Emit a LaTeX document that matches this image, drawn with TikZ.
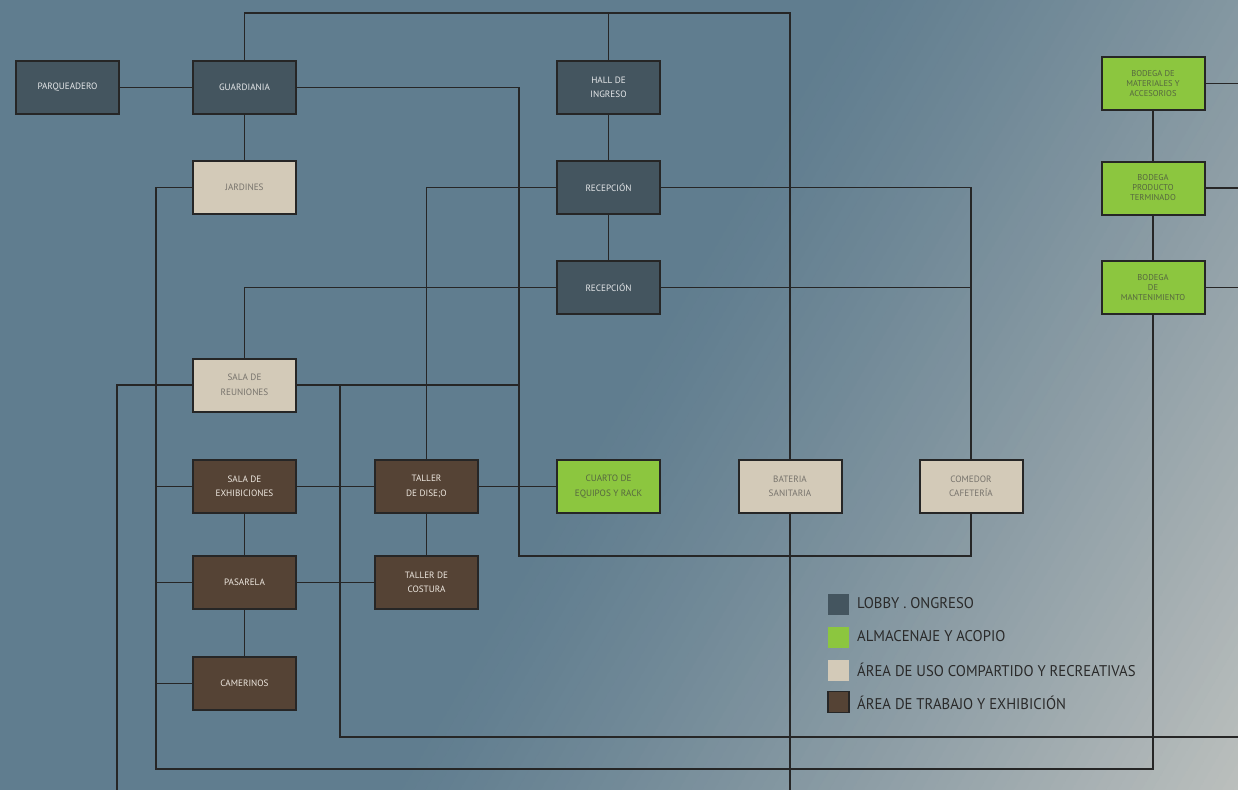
\documentclass[tikz,border=0pt]{standalone}
\usepackage{fontspec}
\setmainfont{PT Sans}
\newfontfamily\leyfont[FakeStretch=0.95]{PT Sans}
\definecolor{bgA}{HTML}{607D8F}
\definecolor{bgB}{HTML}{BBBFBD}
\definecolor{lobby}{HTML}{44555F}
\definecolor{verde}{HTML}{8CC63F}
\definecolor{beige}{HTML}{D3CAB8}
\definecolor{cafe}{HTML}{554335}
\definecolor{linea}{HTML}{262626}
\definecolor{txlobby}{HTML}{E6E8EA}
\definecolor{txverde}{HTML}{56673F}
\definecolor{txbeige}{HTML}{77736C}
\definecolor{txcafe}{HTML}{EEE8E0}
\definecolor{txley}{HTML}{2A2A2A}
\tikzset{
  caja/.style={draw=linea, line width=2pt, minimum width=103pt, minimum height=53pt, inner sep=0pt, align=center, font=\fontsize{9.2}{14.5}\selectfont},
  clobby/.style={caja, fill=lobby, text=txlobby},
  cverde/.style={caja, fill=verde, text=txverde},
  cbeige/.style={caja, fill=beige, text=txbeige},
  ccafe/.style={caja, fill=cafe, text=txcafe},
  bodega/.style={cverde, font=\fontsize{8.5}{10}\selectfont},
  con/.style={draw=linea, line width=1.5pt},
  cuadro/.style={minimum width=21pt, minimum height=21pt, inner sep=0pt},
  ley/.style={anchor=west, inner sep=0pt, text=txley, font=\leyfont\fontsize{15.5}{18}\selectfont}
}
\begin{document}
\begin{tikzpicture}[x=1pt,y=-1pt]
\useasboundingbox (0,0) rectangle (1238,789);
% background gradient (strips perpendicular to the diagonal direction)
\begin{scope}
\clip (-6,-6) rectangle (1244,795);
\fill[bgA] (-6,-6) rectangle (1244,795);
\foreach \u in {0,10,...,730}{
  \pgfmathsetmacro\p{100*((\u+5)/735)^1.2}
  \fill[bgB!\p!bgA, draw=bgB!\p!bgA, line width=0.8pt]
    ({619+0.866*\u+500},{394.5+0.5*\u-866})
    -- ({619+0.866*(\u+10)+500},{394.5+0.5*(\u+10)-866})
    -- ({619+0.866*(\u+10)-500},{394.5+0.5*(\u+10)+866})
    -- ({619+0.866*\u-500},{394.5+0.5*\u+866}) -- cycle;
}
\fill[bgB] ({619+0.866*740+500},{394.5+0.5*740-866})
    -- ({619+0.866*1200+500},{394.5+0.5*1200-866})
    -- ({619+0.866*1200-500},{394.5+0.5*1200+866})
    -- ({619+0.866*740-500},{394.5+0.5*740+866}) -- cycle;
\end{scope}
% coordinates
\coordinate (topR) at (790,13);
\coordinate (v519) at (519,556);
\coordinate (lftB) at (156,769);
\coordinate (lft2) at (117,795);
\coordinate (x340) at (340,737);
\coordinate (edgeR) at (1244,737);
\coordinate (batB) at (790,795);
\coordinate (eR) at (1244,0);
% nodes
\node[clobby] (park) at (67.5,87.5) {PARQUEADERO};
\node[clobby] (guard) at (244.5,87.5) {GUARDIANIA};
\node[clobby] (hall) at (608.5,87.5) {HALL DE\\INGRESO};
\node[cbeige] (jard) at (244.5,187.5) {JARDINES};
\node[clobby] (rec1) at (608.5,187.5) {RECEPCIÓN};
\node[clobby] (rec2) at (608.5,287.5) {RECEPCIÓN};
\node[cbeige] (sreu) at (244.5,385) {SALA DE\\REUNIONES};
\node[ccafe] (sexh) at (244.5,486.5) {SALA DE\\EXHIBICIONES};
\node[ccafe] (tdis) at (426.5,486.5) {TALLER\\DE DISE;O};
\node[cverde] (cuar) at (608.5,486.5) {CUARTO DE\\EQUIPOS Y RACK};
\node[cbeige] (bat) at (790,486.5) {BATERIA\\SANITARIA};
\node[cbeige] (com) at (971,486.5) {COMEDOR\\CAFETERÍA};
\node[ccafe] (pas) at (244.5,582.5) {PASARELA};
\node[ccafe] (tcos) at (426.5,582.5) {TALLER DE\\COSTURA};
\node[ccafe] (cam) at (244.5,683.5) {CAMERINOS};
\node[bodega] (bmat) at (1153,83.5) {BODEGA DE\\MATERIALES Y\\ACCESORIOS};
\node[bodega] (bprod) at (1153,188) {BODEGA\\PRODUCTO\\TERMINADO};
\node[bodega] (bman) at (1153,287.5) {BODEGA\\DE\\MANTENIMIENTO};
% connectors between named nodes
\draw[con] (park) -- (guard);
\draw[con] (guard.north) |- (topR) -- (bat.north);
\draw[con] (hall.north) -- (hall.north |- topR);
\draw[con] (guard.east) -| (v519) -| (com.south);
\draw[con, line width=2pt] (sreu.east) -- (sreu.east -| v519);
\draw[con] (guard) -- (jard);
\draw[con] (hall) -- (rec1);
\draw[con] (rec1) -- (rec2);
\draw[con] (rec1.west) -| (tdis.north);
\draw[con] (rec1.east) -| (com.north);
\draw[con] (rec2.west) -| (sreu.north);
\draw[con] (rec2.east) -- (rec2.east -| com.north);
\draw[con] (jard.west) -| (lftB) -| (bman.south);
\draw[con] (sexh.west) -- (sexh.west -| lftB);
\draw[con] (pas.west) -- (pas.west -| lftB);
\draw[con] (cam.west) -- (cam.west -| lftB);
\draw[con] (sreu.west) -| (lft2);
\draw[con] (sreu.east -| x340) -- (x340) -- (edgeR);
\draw[con] (sexh) -- (tdis);
\draw[con] (tdis) -- (cuar);
\draw[con] (pas) -- (tcos);
\draw[con] (tdis) -- (tcos);
\draw[con] (sexh) -- (pas);
\draw[con] (pas) -- (cam);
\draw[con] (bat.south) -- (batB);
\draw[con] (bmat.east) -- (bmat.east -| eR);
\draw[con] (bprod.east) -- (bprod.east -| eR);
\draw[con] (bman.east) -- (bman.east -| eR);
\draw[con] (bmat) -- (bprod);
\draw[con] (bprod) -- (bman);
% legend
\node[cuadro, fill=lobby] (l1) at (838.5,604.5) {};
\node[ley] (t1) at (857,603.5) {LOBBY . ONGRESO};
\node[cuadro, fill=verde] (l2) at (838.5,637.5) {};
\node[ley] (t2) at (857,636.5) {ALMACENAJE Y ACOPIO};
\node[cuadro, fill=beige] (l3) at (838.5,670.5) {};
\node[ley] (t3) at (857,669.5) {ÁREA DE USO COMPARTIDO Y RECREATIVAS};
\node[cuadro, fill=cafe, draw=linea, line width=1.5pt] (l4) at (838.5,702) {};
\node[ley] (t4) at (857,703) {ÁREA DE TRABAJO Y EXHIBICIÓN};
\end{tikzpicture}
\end{document}
